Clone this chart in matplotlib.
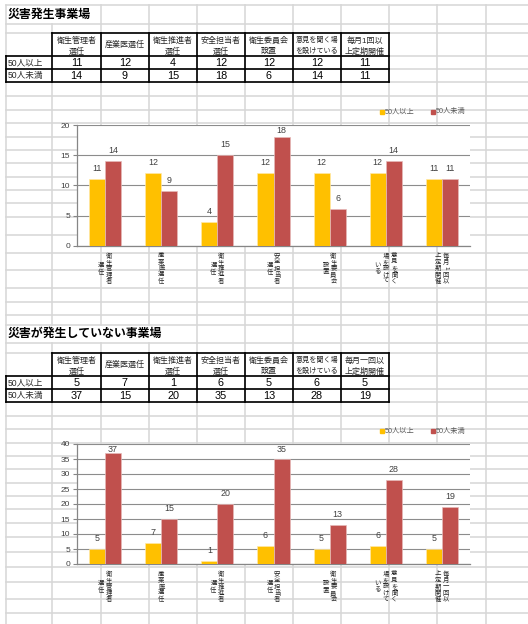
import matplotlib.pyplot as plt
from matplotlib.patches import Rectangle

plt.rcParams['font.family'] = ['Liberation Sans', 'Noto Sans CJK JP']

W, H = 528, 624

# --- data -------------------------------------------------------------
titles = ['災害発生事業場', '災害が発生していない事業場']
series = ['50人以上', '50人未満']

headers1 = [('衛生管理者', '選任'), ('産業医選任',), ('衛生推進者', '選任'),
            ('安全担当者', '選任'), ('衛生委員会', '設置'),
            ('意見を聞く場', 'を設けている'), ('毎月1回以', '上定期開催')]
headers2 = headers1[:6] + [('毎月一回以', '上定期開催')]

# category labels as written vertically under the bars (right column first)
vlabels1 = [('衛生管理者', '選任'), ('産業医選任',), ('衛生推進者', '選任'),
            ('安全担当者', '選任'), ('衛生委員会', '設置'),
            ('意見を聞く', '場を設けて', 'いる'), ('毎月1回以', '上定期開催')]
vlabels2 = vlabels1[:6] + [('毎月一回以', '上定期開催')]

over50_1 = [11, 12, 4, 12, 12, 12, 11]
under50_1 = [14, 9, 15, 18, 6, 14, 11]
over50_2 = [5, 7, 1, 6, 5, 6, 5]
under50_2 = [37, 15, 20, 35, 13, 28, 19]

ymax1, ymax2 = 20, 40

# --- sheet geometry (pixels) ------------------------------------------
col_x = [6, 52, 101, 149, 197, 245, 293, 341, 389, 437, 486]
row_y = [5, 24, 33, 56, 69, 82, 96, 110, 123, 137, 150, 163, 177, 190, 203,
         217, 235, 253, 270, 288, 302, 315,
         325, 343, 353, 376, 389, 402, 416, 429, 443, 456, 469, 483, 496,
         509, 523, 537, 552, 567, 582, 599, 613]

YELLOW = '#FFC000'
RED = '#C0504D'
TXT = '#262626'
GRID_SHEET = '#d6d6d6'

fig = plt.figure(figsize=(W / 100, H / 100), dpi=100)
bg = fig.add_axes([0, 0, 1, 1])
bg.set_xlim(0, W)
bg.set_ylim(H, 0)
bg.axis('off')

# sheet gridlines; title text overflows and hides some column lines
hidden = {52: [(5, 24), (325, 343)], 101: [(325, 343)], 149: [(325, 343)]}
for x in col_x:
    segs = [(5, H)]
    for a, b in hidden.get(x, []):
        new = []
        for s, e in segs:
            if a > s:
                new.append((s, a))
            if b < e:
                new.append((b, e))
        segs = new
    for s, e in segs:
        bg.plot([x, x], [s, e], color=GRID_SHEET, lw=1.1, zorder=1)
for y in row_y:
    bg.plot([6, W], [y, y], color=GRID_SHEET, lw=1.1, zorder=1)


def draw_table(top, title_y, title, headers, row1, row2):
    bg.text(8, title_y, title, fontsize=8.6, fontweight='bold', color='black',
            ha='left', va='center', zorder=5)
    h_bot, r1, r2 = top + 23, top + 36, top + 49
    k = dict(color='black', lw=1.2, zorder=4, solid_capstyle='projecting')
    bg.plot([52, 389], [top, top], **k)
    for y in (h_bot, r1, r2):
        bg.plot([6, 389], [y, y], **k)
    bg.plot([6, 6], [h_bot, r2], **k)
    for x in col_x[1:9]:
        bg.plot([x, x], [top, r2], **k)
    for i, hd in enumerate(headers):
        cx = (col_x[i + 1] + col_x[i + 2]) / 2
        fs = 5.1 if len(hd[0]) > 5 else 5.8
        if len(hd) == 1:
            bg.text(cx, (top + h_bot) / 2, hd[0], fontsize=fs, color=TXT,
                    ha='center', va='center', zorder=5)
        else:
            bg.text(cx, top + 7.5, hd[0], fontsize=fs, color=TXT,
                    ha='center', va='center', zorder=5)
            bg.text(cx, top + 18.5, hd[1], fontsize=fs, color=TXT,
                    ha='center', va='center', zorder=5)
        bg.text(cx, (h_bot + r1) / 2 + 0.5, str(row1[i]), fontsize=7.8,
                color='black', ha='center', va='center', zorder=5)
        bg.text(cx, (r1 + r2) / 2 + 0.5, str(row2[i]), fontsize=7.8,
                color='black', ha='center', va='center', zorder=5)
    bg.text(7.5, (h_bot + r1) / 2, series[0], fontsize=6.2, color=TXT,
            ha='left', va='center', zorder=5)
    bg.text(7.5, (r1 + r2) / 2, series[1], fontsize=6.2, color=TXT,
            ha='left', va='center', zorder=5)


def vtext(x, yc, s):
    step = 6.3
    y0 = yc - (len(s) - 1) * step / 2
    for i, ch in enumerate(s):
        rot = -90 if ch.isascii() else 0
        bg.text(x, y0 + i * step, ch, fontsize=4.6, color=TXT, ha='center',
                va='center', rotation=rot, zorder=5)


def draw_chart(left, right, top, bottom, ymax, a, b, vlabels, legend_y):
    ax = fig.add_axes([left / W, 1 - bottom / H, (right - left) / W,
                       (bottom - top) / H])
    ax.set_facecolor('white')
    n = len(a)
    xs = list(range(n))
    w = 0.285
    ax.bar([x - w / 2 for x in xs], a, width=w, color=YELLOW,
           edgecolor='#ffe9a6', linewidth=0.5, zorder=3)
    ax.bar([x + w / 2 for x in xs], b, width=w, color=RED,
           edgecolor='#e6b9b8', linewidth=0.5, zorder=3)
    ax.set_xlim(-0.5, n - 0.5)
    ax.set_ylim(0, ymax)
    ax.set_yticks(range(0, ymax + 1, 5))
    ax.set_xticks([])
    ax.grid(axis='y', color='#8c8c8c', lw=0.8, zorder=0)
    ax.tick_params(axis='y', length=3, width=0.8, color='#868686', pad=2,
                   labelsize=6, labelcolor='#404040')
    for sp in ('top', 'right'):
        ax.spines[sp].set_visible(False)
    for sp in ('left', 'bottom'):
        ax.spines[sp].set_color('#868686')
        ax.spines[sp].set_linewidth(0.9)
    per_px = ymax / (bottom - top)
    for vals, off in ((a, -w / 2), (b, w / 2)):
        for x, v in zip(xs, vals):
            yl = min(v + 10.5 * per_px, ymax - 5.5 * per_px)
            ax.text(x + off, yl, str(v), fontsize=6.4, color='#404040',
                    ha='center', va='center', zorder=4, clip_on=False)
    # vertical category labels below the axis
    span = (right - left) / n
    for i, cols in enumerate(vlabels):
        cx = left + (i + 0.5) * span
        sp = 8.4 if len(cols) > 2 else 7.6
        for j, col in enumerate(cols):
            vtext(cx + ((len(cols) - 1) / 2 - j) * sp, bottom + 22.5, col)
    # legend
    for lx, c, name in ((380, YELLOW, series[0]), (431, RED, series[1])):
        bg.add_patch(Rectangle((lx, legend_y - 2), 4, 4, color=c, zorder=5))
        bg.text(lx + 5, legend_y, name, fontsize=5.2, color='#595959',
                ha='left', va='center', zorder=5)
    return ax


draw_table(33, 14.5, titles[0], headers1, over50_1, under50_1)
draw_table(353, 334, titles[1], headers2, over50_2, under50_2)

draw_chart(77, 470, 125, 245.7, ymax1, over50_1, under50_1, vlabels1, 112)
draw_chart(77, 470, 444, 564, ymax2, over50_2, under50_2, vlabels2, 431)

fig.savefig('out.png', dpi=100)
